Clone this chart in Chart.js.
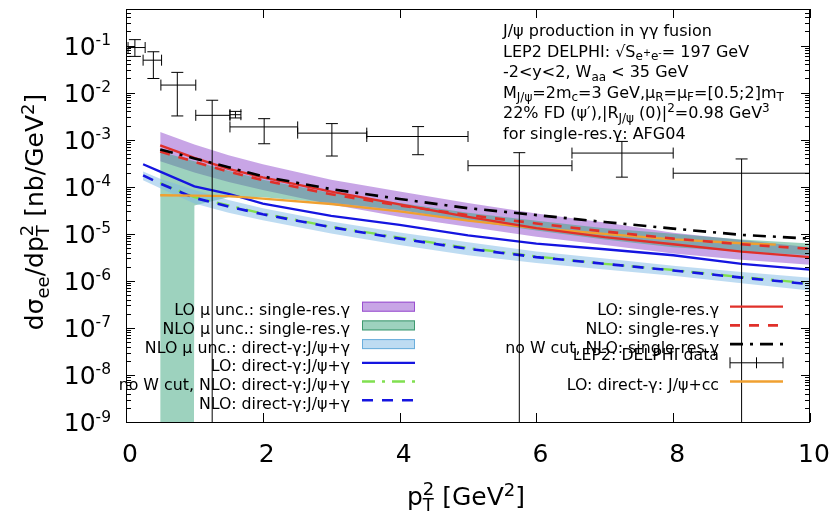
<!DOCTYPE html>
<html>
<head>
<meta charset="utf-8">
<title>J/ψ production in γγ fusion</title>
<script src="https://cdn.jsdelivr.net/npm/chart.js@4.4.1/dist/chart.umd.min.js"></script>
<style>
  body { margin: 0; background: #fff; }
  canvas { display: block; }
</style>
</head>
<body>
<canvas id="chart" width="832" height="515"></canvas>
<script>
// pT^2 grids [GeV^2]
const xSingle = [0.5, 1, 1.5, 2, 3, 4, 5, 6, 7, 8, 9, 10];
const xDirect = [0.25, 0.5, 1, 1.5, 2, 3, 4, 5, 6, 7, 8, 9, 10];
const xCc = [0.5, 1, 1.5, 2, 3, 4, 5, 6, 7, 8, 9, 9.5];
const xNloSingleLow = [0.5, 0.99, 1, 1.5, 2, 3, 4, 5, 6, 7, 8, 9, 10];

// dsigma_ee/dpT^2 [nb/GeV^2]  (1e-12 = below the plotted range)
const loSingle = [7.6e-4, 4.1e-4, 2.4e-4, 1.58e-4, 7.9e-5, 4.2e-5, 2.3e-5, 1.32e-5, 8.5e-6, 6.0e-6, 4.2e-6, 3.2e-6];
const nloSingle = [5.6e-4, 3.4e-4, 2.1e-4, 1.38e-4, 6.9e-5, 4.0e-5, 2.5e-5, 1.66e-5, 1.12e-5, 7.9e-6, 6.0e-6, 4.8e-6];
const nloSingleNoW = [6.2e-4, 4.0e-4, 2.6e-4, 1.66e-4, 8.9e-5, 5.5e-5, 3.5e-5, 2.5e-5, 1.78e-5, 1.29e-5, 9.5e-6, 7.9e-6];
const loSingleUp = [1.45e-3, 7.9e-4, 4.7e-4, 3.0e-4, 1.41e-4, 7.9e-5, 4.5e-5, 2.7e-5, 1.74e-5, 1.05e-5, 7.4e-6, 5.2e-6];
const loSingleLow = [3.5e-4, 2.0e-4, 1.26e-4, 8.5e-5, 4.2e-5, 2.3e-5, 1.41e-5, 8.7e-6, 5.8e-6, 3.8e-6, 2.8e-6, 2.2e-6];
const nloSingleUp = [5.6e-4, 3.5e-4, 2.2e-4, 1.41e-4, 7.4e-5, 4.5e-5, 2.8e-5, 1.9e-5, 1.32e-5, 1.0e-5, 7.6e-6, 6.2e-6];
const nloSingleLow = [1e-12, 1e-12, 4.0e-5, 6.0e-5, 6.0e-5, 4.5e-5, 3.2e-5, 1.9e-5, 1.17e-5, 7.6e-6, 5.2e-6, 4.2e-6, 3.5e-6];
const loDirect = [3.0e-4, 2.1e-4, 1.02e-4, 7.1e-5, 4.4e-5, 2.4e-5, 1.55e-5, 9.3e-6, 6.2e-6, 4.7e-6, 3.5e-6, 2.3e-6, 1.74e-6];
const nloDirect = [1.74e-4, 1.17e-4, 5.8e-5, 3.8e-5, 2.6e-5, 1.38e-5, 7.9e-6, 4.8e-6, 3.2e-6, 2.3e-6, 1.66e-6, 1.17e-6, 8.5e-7];
const nloDirectNoW = [1.2e-4, 6.0e-5, 4.0e-5, 2.7e-5, 1.41e-5, 8.3e-6, 5.0e-6, 3.3e-6, 2.3e-6, 1.7e-6, 1.2e-6, 8.9e-7];
const nloDirectUp = [2.1e-4, 1.48e-4, 8.5e-5, 5.2e-5, 3.5e-5, 1.82e-5, 1.07e-5, 6.6e-6, 4.2e-6, 3.0e-6, 2.1e-6, 1.55e-6, 1.17e-6];
const nloDirectLow = [1.38e-4, 9.3e-5, 4.4e-5, 2.8e-5, 1.95e-5, 1.02e-5, 5.8e-6, 3.5e-6, 2.4e-6, 1.74e-6, 1.29e-6, 8.9e-7, 6.2e-7];
const loDirectCc = [6.6e-5, 6.5e-5, 6.3e-5, 5.6e-5, 4.3e-5, 3.0e-5, 1.9e-5, 1.32e-5, 1.0e-5, 7.6e-6, 6.3e-6, 5.9e-6];

// LEP2 DELPHI data
const dataX = [0.13, 0.4, 0.75, 1.26, 1.6, 2.02, 3.01, 4.27, 5.75, 7.25, 9.0];
const dataXLow = [0.03, 0.25, 0.51, 1.02, 1.52, 1.52, 2.51, 3.52, 5.0, 6.52, 8.0];
const dataXHigh = [0.28, 0.52, 1.02, 1.52, 1.68, 2.51, 3.52, 5.0, 6.52, 8.0, 10.0];
const dataY = [0.091, 0.049, 0.0145, 3.3e-3, 3.4e-3, 1.87e-3, 1.38e-3, 1.17e-3, 2.8e-4, 5.2e-4, 1.94e-4];
const dataYHigh = [0.134, 0.074, 0.027, 6.9e-3, 4.0e-3, 2.8e-3, 2.2e-3, 1.9e-3, 5.3e-4, 9.2e-4, 3.9e-4];
const dataYLow = [0.059, 0.020, 3.2e-3, 1e-12, 2.9e-3, 8.2e-4, 4.5e-4, 4.8e-4, 1e-12, 1.6e-4, 1e-12];

// axes
const xTicks = [0, 2, 4, 6, 8, 10];
const yTickExps = [-9, -8, -7, -6, -5, -4, -3, -2, -1];

const legendLeft = ['LO μ unc.: single-res.γ', 'NLO μ unc.: single-res.γ', 'NLO μ unc.: direct-γ:J/ψ+γ',
  'LO: direct-γ:J/ψ+γ', 'no W cut, NLO: direct-γ:J/ψ+γ', 'NLO: direct-γ:J/ψ+γ'];
const legendRight = ['LO: single-res.γ', 'NLO: single-res.γ', 'no W cut, NLO: single-res.γ',
  'LEP2: DELPHI data', 'LO: direct-γ: J/ψ+cc'];

const noteLines = [
  [['J/ψ production in γγ fusion', '']],
  [['LEP2 DELPHI: √S', ''], ['e', '_'], ['+', '_^'], ['e', '_'], ['-', '_^'], ['= 197 GeV', '']],
  [['-2<y<2, W', ''], ['aa', '_'], [' < 35 GeV', '']],
  [['M', ''], ['J/ψ', '_'], ['=2m', ''], ['c', '_'], ['=3 GeV,μ', ''], ['R', '_'], ['=μ', ''], ['F', '_'],
    ['=[0.5;2]m', ''], ['T', '_']],
  [['22% FD (ψ′),|R', ''], ['J/ψ', '_'], [' (0)|', ''], ['2', '^'], ['=0.98 GeV', ''], ['3', '^']],
  [['for single-res.γ: AFG04', '']]
];

const FONT = '"DejaVu Sans", sans-serif';
const pts = (xs, ys) => xs.map((x, i) => ({ x, y: ys[i] }));

// gnuplot-like enhanced text: '' normal, '^' sup, '_' sub, '_^' raised inside a subscript, '@' stacked "sup|sub"
function rich(ctx, parts, x, y, size, align, r) {
  r = r || 0.75;
  const items = [];
  let w = 0;
  for (const [t, k] of parts) {
    const fs = k === '' ? size : k === '_^' ? size * r * 0.8 : size * r;
    ctx.font = fs + 'px ' + FONT;
    if (k === '@') {
      const [a, b] = t.split('|');
      items.push({ t: a, x: w, dy: -0.4 * size, fs });
      items.push({ t: b, x: w, dy: 0.22 * size, fs });
      w += Math.max(ctx.measureText(a).width, ctx.measureText(b).width);
    } else {
      const dy = k === '^' ? -0.38 * size : k === '_' ? 0.22 * size : k === '_^' ? -0.02 * size : 0;
      items.push({ t, x: w, dy, fs });
      w += ctx.measureText(t).width;
    }
  }
  const x0 = align === 'right' ? x - w : align === 'center' ? x - w / 2 : x;
  ctx.textAlign = 'left';
  ctx.textBaseline = 'alphabetic';
  for (const it of items) {
    ctx.font = it.fs + 'px ' + FONT;
    ctx.fillText(it.t, x0 + it.x, y + it.dy);
  }
}

const RED = '#e0302a', BLUE = '#1515e0', LGREEN = '#80e050', ORANGE = '#f0a030';

const line = (label, xs, ys, color, dash, width, order) => ({
  label, data: pts(xs, ys), borderColor: color, borderDash: dash, borderWidth: width,
  pointRadius: 0, fill: false, tension: 0, order
});
const bandLow = (xs, ys, order) => ({
  label: '', data: pts(xs, ys), borderWidth: 0, borderColor: 'transparent', pointRadius: 0, fill: false, order
});
const bandUp = (label, xs, ys, color, edge, order) => ({
  label, data: pts(xs, ys), borderWidth: 0, borderColor: 'transparent', backgroundColor: color,
  legendEdge: edge, pointRadius: 0, fill: '-1', order
});

const datasets = [
  bandLow(xSingle, loSingleLow, 100),
  bandUp('LO μ unc.: single-res.γ', xSingle, loSingleUp, 'rgba(145,75,205,0.5)', '#9a50d0', 100),
  bandLow(xNloSingleLow, nloSingleLow, 99),
  bandUp('NLO μ unc.: single-res.γ', xSingle, nloSingleUp, 'rgba(60,165,125,0.5)', '#3f9a70', 99),
  bandLow(xDirect, nloDirectLow, 98),
  bandUp('NLO μ unc.: direct-γ:J/ψ+γ', xDirect, nloDirectUp, 'rgba(125,185,230,0.5)', '#6aaedc', 98),
  line('LO: direct-γ:J/ψ+γ', xDirect, loDirect, BLUE, [], 2.3, 10),
  line('no W cut, NLO: direct-γ:J/ψ+γ', xSingle, nloDirectNoW, LGREEN, [13, 7, 3, 7], 2.3, 9),
  line('NLO: direct-γ:J/ψ+γ', xDirect, nloDirect, BLUE, [11, 9], 2.6, 8),
  line('LO: single-res.γ', xSingle, loSingle, RED, [], 2.3, 6),
  line('NLO: single-res.γ', xSingle, nloSingle, RED, [10, 9], 2.6, 5),
  line('no W cut, NLO: single-res.γ', xSingle, nloSingleNoW, '#000', [13, 7, 3, 7], 2.6, 4),
  { label: 'LEP2: DELPHI data', data: pts(dataX, dataY), showLine: false, pointRadius: 0, errorBars: true, order: 1 },
  line('LO: direct-γ: J/ψ+cc', xCc, loDirectCc, ORANGE, [], 2.3, 7)
];

function errorBar(ctx, cx, cy, x0, x1, y0, y1) {
  ctx.beginPath();
  ctx.moveTo(x0, cy); ctx.lineTo(x1, cy);
  ctx.moveTo(x0, cy - 5.5); ctx.lineTo(x0, cy + 5.5);
  ctx.moveTo(x1, cy - 5.5); ctx.lineTo(x1, cy + 5.5);
  ctx.moveTo(cx, y0); ctx.lineTo(cx, y1);
  ctx.moveTo(cx - 6, y0); ctx.lineTo(cx + 6, y0);
  ctx.moveTo(cx - 6, y1); ctx.lineTo(cx + 6, y1);
  ctx.stroke();
}

const framePlugin = {
  id: 'frame',
  afterDraw(chart) {
    const { ctx, chartArea: a, scales: { x, y } } = chart;
    ctx.save();
    ctx.fillStyle = '#000';
    ctx.strokeStyle = '#000';
    ctx.lineWidth = 1;

    // data error bars
    ctx.save();
    ctx.beginPath();
    ctx.rect(a.left, a.top, a.right - a.left, a.bottom - a.top);
    ctx.clip();
    dataX.forEach((v, i) => {
      errorBar(ctx, x.getPixelForValue(v), y.getPixelForValue(dataY[i]),
        x.getPixelForValue(dataXLow[i]), x.getPixelForValue(dataXHigh[i]),
        y.getPixelForValue(dataYHigh[i]), y.getPixelForValue(dataYLow[i]));
    });
    ctx.restore();

    // border and inward ticks
    ctx.strokeRect(a.left + 0.5, a.top + 0.5, a.right - a.left - 1, a.bottom - a.top);
    ctx.beginPath();
    xTicks.forEach(v => {
      const px = Math.round(x.getPixelForValue(v)) + 0.5;
      ctx.moveTo(px, a.bottom); ctx.lineTo(px, a.bottom - 9);
      ctx.moveTo(px, a.top); ctx.lineTo(px, a.top + 9);
    });
    yTickExps.forEach(e => {
      for (let m = 1; m <= 9; m++) {
        const v = m * Math.pow(10, e);
        if (v > y.max) break;
        const py = Math.round(y.getPixelForValue(v)) + 0.5;
        const len = m === 1 ? 9 : 5;
        ctx.moveTo(a.left, py); ctx.lineTo(a.left + len, py);
        ctx.moveTo(a.right, py); ctx.lineTo(a.right - len, py);
      }
    });
    ctx.stroke();

    // y tick labels
    yTickExps.forEach(e => {
      const py = y.getPixelForValue(Math.pow(10, e));
      rich(ctx, [['10', ''], [String(e), '^']], 111, py + 9, 25, 'right', 0.62);
    });

    // axis titles
    rich(ctx, [['p', ''], ['2|T', '@'], [' [GeV', ''], ['2', '^'], [']', '']], 466, 505, 25, 'center', 0.72);
    ctx.save();
    ctx.translate(43, 212);
    ctx.rotate(-Math.PI / 2);
    rich(ctx, [['dσ', ''], ['ee', '_'], ['/dp', ''], ['2|T', '@'], [' [nb/GeV', ''], ['2', '^'], [']', '']],
      0, 0, 25, 'center', 0.72);
    ctx.restore();

    // annotation
    noteLines.forEach((parts, i) => rich(ctx, parts, 503, 36 + 20.5 * i, 16, 'left', 0.75));

    // key
    const byLabel = l => chart.data.datasets.find(d => d.label === l);
    const drawKey = (labels, textRight, s0, s1) => {
      labels.forEach((l, i) => {
        const ds = byLabel(l);
        const ry = 306.7 + 18.7 * i;
        ctx.font = '15.8px ' + FONT;
        ctx.textAlign = 'right';
        ctx.textBaseline = 'alphabetic';
        ctx.fillStyle = '#000';
        ctx.fillText(l, textRight, ds.errorBars ? ry - 2.5 : ry + 8.5);
        if (ds.fill) {
          ctx.fillStyle = ds.backgroundColor;
          ctx.fillRect(s0, ry - 5, s1 - s0, 10);
          ctx.strokeStyle = ds.legendEdge;
          ctx.lineWidth = 1;
          ctx.strokeRect(s0 + 0.5, ry - 4.5, s1 - s0 - 1, 9);
        } else if (ds.errorBars) {
          ctx.strokeStyle = '#000';
          ctx.lineWidth = 1;
          ctx.beginPath();
          ctx.moveTo(s0, ry); ctx.lineTo(s1, ry);
          [s0, (s0 + s1) / 2, s1].forEach(px => { ctx.moveTo(px, ry - 5.5); ctx.lineTo(px, ry + 5.5); });
          ctx.stroke();
        } else {
          ctx.strokeStyle = ds.borderColor;
          ctx.lineWidth = ds.borderWidth;
          ctx.setLineDash(ds.borderDash);
          ctx.beginPath();
          ctx.moveTo(s0, ry); ctx.lineTo(s1, ry);
          ctx.stroke();
          ctx.setLineDash([]);
        }
      });
    };
    drawKey(legendLeft, 350, 362, 415);
    drawKey(legendRight, 719, 730, 783);
    ctx.restore();
  }
};

new Chart(document.getElementById('chart'), {
  type: 'line',
  data: { datasets },
  options: {
    responsive: false,
    devicePixelRatio: 1,
    animation: false,
    events: [],
    layout: { padding: { left: 0, right: 22, top: 9, bottom: 0 }, autoPadding: false },
    plugins: { legend: { display: false }, tooltip: { enabled: false } },
    scales: {
      x: {
        type: 'linear', min: 0, max: 10,
        afterBuildTicks: s => { s.ticks = xTicks.map(v => ({ value: v })); },
        ticks: { color: '#000', padding: 18, labelOffset: 4, maxRotation: 0, autoSkip: false,
          font: { family: 'DejaVu Sans', size: 25 } },
        grid: { display: false, drawTicks: false },
        border: { display: false },
        afterFit: s => { s.height = 93; s.paddingLeft = 0; s.paddingRight = 0; }
      },
      y: {
        type: 'logarithmic', min: 1e-9, max: 0.6,
        ticks: { display: false },
        grid: { display: false, drawTicks: false },
        border: { display: false },
        afterFit: s => { s.width = 126; s.paddingTop = 0; s.paddingBottom = 0; }
      }
    }
  },
  plugins: [framePlugin]
});
</script>
</body>
</html>
